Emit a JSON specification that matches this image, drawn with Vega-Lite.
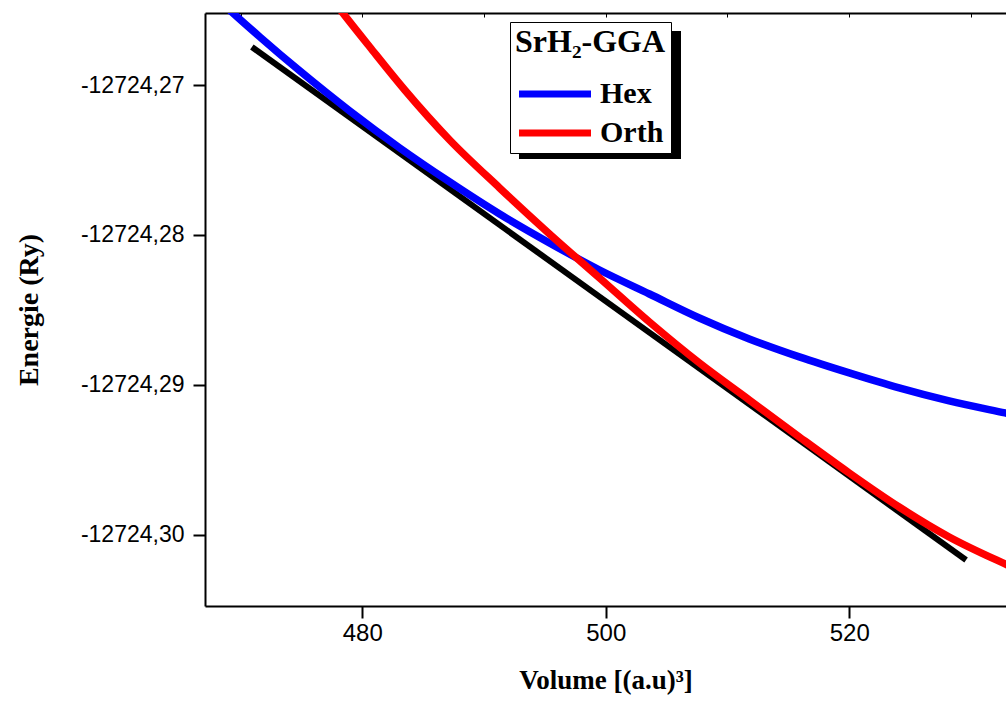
{
  "$schema": "https://vega.github.io/schema/vega-lite/v6.json",
  "width": 801,
  "height": 593,
  "autosize": "none",
  "padding": {"left": 205, "top": 13, "right": 0, "bottom": 98},
  "background": "white",
  "config": {"view": {"stroke": null}, "font": "Liberation Sans"},
  "datasets": {
    "curves": [
      {"series": "Hex", "V": 468.0, "E": -12724.26414},
      {"series": "Hex", "V": 469.37, "E": -12724.26518},
      {"series": "Hex", "V": 471.59, "E": -12724.26678},
      {"series": "Hex", "V": 474.87, "E": -12724.26905},
      {"series": "Hex", "V": 478.97, "E": -12724.27172},
      {"series": "Hex", "V": 483.08, "E": -12724.27419},
      {"series": "Hex", "V": 487.18, "E": -12724.27646},
      {"series": "Hex", "V": 491.28, "E": -12724.2786},
      {"series": "Hex", "V": 495.38, "E": -12724.28053},
      {"series": "Hex", "V": 499.49, "E": -12724.28234},
      {"series": "Hex", "V": 503.59, "E": -12724.28394},
      {"series": "Hex", "V": 507.69, "E": -12724.28554},
      {"series": "Hex", "V": 511.79, "E": -12724.28694},
      {"series": "Hex", "V": 515.9, "E": -12724.28814},
      {"series": "Hex", "V": 520.0, "E": -12724.28921},
      {"series": "Hex", "V": 524.1, "E": -12724.29021},
      {"series": "Hex", "V": 528.21, "E": -12724.29108},
      {"series": "Hex", "V": 532.8, "E": -12724.29188},
      {"series": "Hex", "V": 533.5, "E": -12724.292},
      {"series": "Orth", "V": 477.33, "E": -12724.26405},
      {"series": "Orth", "V": 478.4, "E": -12724.26518},
      {"series": "Orth", "V": 480.62, "E": -12724.26745},
      {"series": "Orth", "V": 483.49, "E": -12724.27032},
      {"series": "Orth", "V": 487.18, "E": -12724.27366},
      {"series": "Orth", "V": 491.28, "E": -12724.27686},
      {"series": "Orth", "V": 495.38, "E": -12724.27993},
      {"series": "Orth", "V": 499.49, "E": -12724.28287},
      {"series": "Orth", "V": 503.59, "E": -12724.28581},
      {"series": "Orth", "V": 507.69, "E": -12724.28854},
      {"series": "Orth", "V": 511.79, "E": -12724.29101},
      {"series": "Orth", "V": 515.9, "E": -12724.29348},
      {"series": "Orth", "V": 520.0, "E": -12724.29589},
      {"series": "Orth", "V": 524.1, "E": -12724.29816},
      {"series": "Orth", "V": 528.21, "E": -12724.30016},
      {"series": "Orth", "V": 532.8, "E": -12724.30196},
      {"series": "Orth", "V": 533.5, "E": -12724.30222}
    ],
    "tangent": [
      {"V": 470.93, "E": -12724.26745},
      {"V": 529.6, "E": -12724.3017}
    ],
    "shadow": [
      {"box": "shadow"}
    ]
  },
  "layer": [
    {
      "data": {"name": "shadow"},
      "mark": {"type": "point", "filled": true, "opacity": 0},
      "encoding": {
        "fill": {
          "field": "box",
          "type": "nominal",
          "scale": {"range": ["black"]},
          "legend": {
            "orient": "none",
            "legendX": 314,
            "legendY": 18,
            "zindex": 2,
            "title": null,
            "padding": 0,
            "labelExpr": "''",
            "labelFontSize": 1,
            "labelOffset": 0,
            "symbolType": "M-1,-1H1.53125V1H-1Z",
            "symbolSize": 16384,
            "symbolStrokeWidth": 0,
            "symbolStrokeColor": "black",
            "symbolOpacity": 1
          }
        }
      }
    },
    {
      "data": {"name": "tangent"},
      "mark": {"type": "line", "color": "black", "strokeWidth": 6, "clip": true},
      "encoding": {
        "x": {
          "field": "V",
          "type": "quantitative",
          "scale": {"domain": [467.08, 532.88], "nice": false, "zero": false},
          "axis": {
            "orient": "bottom",
            "values": [480, 500, 520],
            "format": "d",
            "grid": false,
            "domainColor": "black",
            "domainWidth": 2,
            "tickColor": "black",
            "tickWidth": 2,
            "tickSize": 12,
            "labelFont": "Liberation Sans",
            "labelFontSize": 24,
            "labelColor": "black",
            "labelPadding": 3,
            "title": "Volume [(a.u)³]",
            "titleFont": "Liberation Serif",
            "titleFontSize": 27,
            "titleFontWeight": "bold",
            "titleColor": "black",
            "titlePadding": 22
          }
        },
        "y": {
          "field": "E",
          "type": "quantitative",
          "scale": {"domain": [-12724.30477, -12724.26518], "nice": false, "zero": false},
          "axis": {
            "orient": "left",
            "values": [-12724.27, -12724.28, -12724.29, -12724.3],
            "labelExpr": "replace(replace(format(datum.value, '.2f'), '.', ','), '−', '-')",
            "grid": false,
            "domainColor": "black",
            "domainWidth": 2,
            "tickColor": "black",
            "tickWidth": 2,
            "tickSize": 12,
            "labelFont": "Liberation Sans",
            "labelFontSize": 23,
            "labelColor": "black",
            "labelPadding": 9,
            "title": "Energie (Ry)",
            "titleFont": "Liberation Serif",
            "titleFontSize": 28,
            "titleFontWeight": "bold",
            "titleColor": "black",
            "titlePadding": 37
          }
        }
      }
    },
    {
      "data": {"name": "curves"},
      "mark": {"type": "line", "strokeWidth": 7.5, "clip": true, "interpolate": "monotone"},
      "encoding": {
        "x": {
          "field": "V",
          "type": "quantitative",
          "scale": {"domain": [467.08, 532.88], "nice": false, "zero": false},
          "axis": {
            "orient": "top",
            "values": [470, 480, 490, 500, 510, 520, 530],
            "labels": false,
            "title": null,
            "grid": false,
            "domainColor": "black",
            "domainWidth": 2,
            "tickColor": "black",
            "tickWidth": 1,
            "tickSize": -4
          }
        },
        "y": {
          "field": "E",
          "type": "quantitative",
          "scale": {"domain": [-12724.30477, -12724.26518], "nice": false, "zero": false},
          "axis": {
            "orient": "left",
            "values": [-12724.27, -12724.28, -12724.29, -12724.3],
            "labelExpr": "replace(replace(format(datum.value, '.2f'), '.', ','), '−', '-')",
            "grid": false,
            "domainColor": "black",
            "domainWidth": 2,
            "tickColor": "black",
            "tickWidth": 2,
            "tickSize": 12,
            "labelFont": "Liberation Sans",
            "labelFontSize": 23,
            "labelColor": "black",
            "labelPadding": 9,
            "title": "Energie (Ry)",
            "titleFont": "Liberation Serif",
            "titleFontSize": 28,
            "titleFontWeight": "bold",
            "titleColor": "black",
            "titlePadding": 37
          }
        },
        "color": {
          "field": "series",
          "type": "nominal",
          "scale": {"domain": ["Hex", "Orth"], "range": ["#0000ff", "#ff0000"]},
          "legend": {
            "orient": "none",
            "legendX": 305,
            "legendY": 9,
            "zindex": 3,
            "title": "SrH₂-GGA",
            "fillColor": "white",
            "strokeColor": "black",
            "padding": 5,
            "titleFont": "Liberation Serif",
            "titleFontSize": 32,
            "titleFontWeight": "bold",
            "titleColor": "black",
            "titlePadding": 20,
            "labelFont": "Liberation Serif",
            "labelFontSize": 30,
            "labelFontWeight": "bold",
            "labelColor": "black",
            "labelOffset": 55,
            "rowPadding": 9,
            "symbolType": "M-1,0H5.545",
            "symbolSize": 484,
            "symbolStrokeWidth": 7
          }
        }
      }
    }
  ]
}
